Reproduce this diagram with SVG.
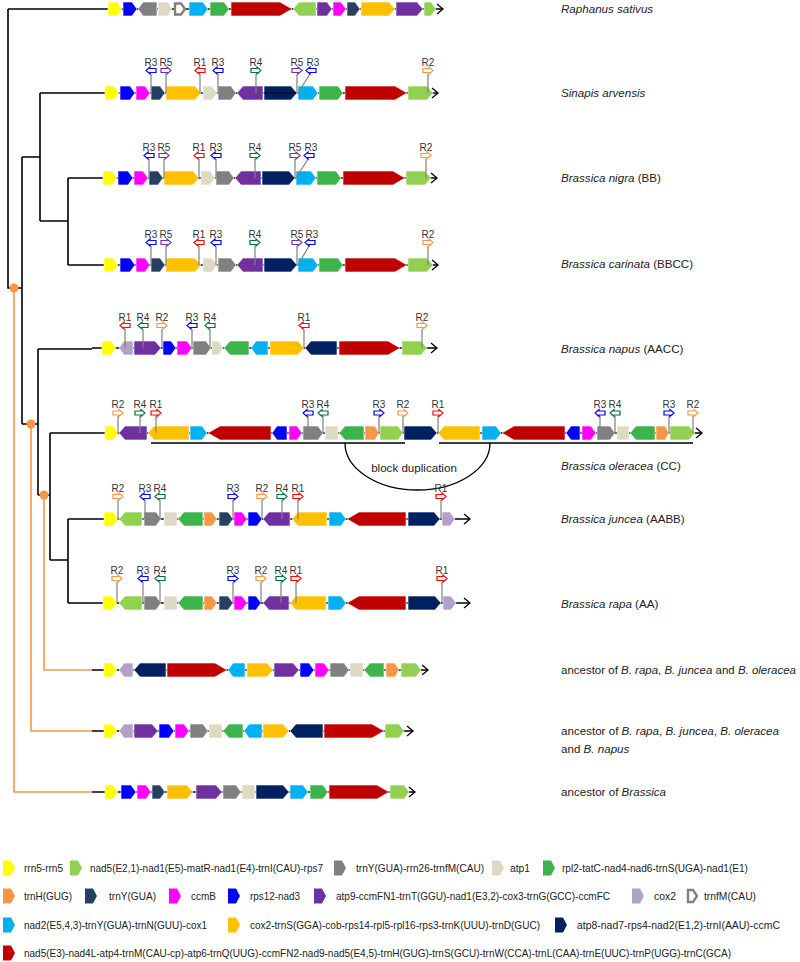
<svg xmlns="http://www.w3.org/2000/svg" xmlns:xlink="http://www.w3.org/1999/xlink" width="800" height="962" viewBox="0 0 800 962">
<style>
.ln{stroke:#000;stroke-width:1.3;fill:none}
.tr{stroke:#000;stroke-width:1.6;fill:none}
.ot{stroke:#f79646;stroke-width:1.6;fill:none}
.dot{fill:#f79646}
polygon,rect.g{stroke:#fff;stroke-width:.6}
.y{fill:#ffff00}.lg{fill:#92d050}.gy{fill:#808080}.be{fill:#ddd9c3}.gr{fill:#3cb44b}.og{fill:#f79646}.nv{fill:#254061}.mg{fill:#ff00ff}.bl{fill:#0000ff}.pu{fill:#7030a0}.li{fill:#b3a2c7}.cy{fill:#00b0f0}.go{fill:#ffc000}.dn{fill:#002060}.rd{fill:#c00000}
.fm{fill:#fff;stroke:#808080;stroke-width:2.4}
.st{stroke:#808080;stroke-width:1.2;fill:none}
use.m{fill:#fff;stroke-width:1.2}
.m1{stroke:#ff0000}.m2{stroke:#f79646}.m3{stroke:#0000ff}.m4{stroke:#00703c}.m5{stroke:#7030a0}
.rl{font-family:"Liberation Sans",Arial,sans-serif;font-size:10px;fill:#333;text-anchor:middle}
.sp{font-family:"Liberation Sans",Arial,sans-serif;font-size:11.6px;fill:#222}
.it{font-style:italic}
.lt{font-family:"Liberation Sans",Arial,sans-serif;font-size:10.5px;fill:#222}
</style>
<defs>
<marker id="ar" markerWidth="9" markerHeight="12" refX="7" refY="6" orient="auto" markerUnits="userSpaceOnUse"><path d="M1,1 L7,6 L1,11" fill="none" stroke="#000" stroke-width="1.3"/></marker>
<path id="mr" d="M-5,-2 H1 V-3.5 L5,0 L1,3.5 V2 H-5 Z"/>
<path id="ml" d="M5,-2 H-1 V-3.5 L-5,0 L-1,3.5 V2 H5 Z"/>
<path id="lic" d="M0,-7.5 H8 L12,0 L8,7.5 H0 Z"/>
</defs>

<g id="tree">
<path class="tr" d="M8,9 H97 M8,9 V288 H22 M22,157 V424 M22,157 H40 M40,93 V221 M40,93 H95 M40,221 H68 M68,178 V265 M68,178 H92 M68,265 H93 M22,424 H38 M38,349 V495 M38,349 H92 M38,495 H50 M50,433 V560 M50,433 H97 M50,560 H68 M68,519 V603 M68,519 H92 M68,603 H92"/>
<path class="ot" d="M14,288 V792 H92 M31,424 V731 H92 M44,495 V670 H92"/>
<circle class="dot" cx="14" cy="288" r="4.5"/>
<circle class="dot" cx="31" cy="424" r="4.5"/>
<circle class="dot" cx="44" cy="495" r="4.5"/>
</g>

<g id="row-raphanus" transform="translate(0,9)">
<path class="ln" d="M97,0 H443" marker-end="url(#ar)"/>
<polygon class="y" points="108,-7 117,-7 122,0 117,7 108,7"/>
<polygon class="bl" points="123,-7 132,-7 137,0 132,7 123,7"/>
<polygon class="gy" points="138,0 143,-7 157,-7 157,7 143,7"/>
<polygon class="be" points="158,-7 168,-7 172,0 168,7 158,7"/>
<path class="fm" d="M175,-5.5 H181 L185,0 L181,5.5 H175 Z"/>
<polygon class="cy" points="189,-7 203,-7 208,0 203,7 189,7"/>
<polygon class="gr" points="210,-7 224,-7 229,0 224,7 210,7"/>
<polygon class="rd" points="231,-7 280,-7 292,0 280,7 231,7"/>
<polygon class="lg" points="293,0 299,-7 316,-7 316,7 299,7"/>
<polygon class="pu" points="317,-7 327,-7 332,0 327,7 317,7"/>
<polygon class="mg" points="333,-7 341,-7 346,0 341,7 333,7"/>
<polygon class="nv" points="347,-7 355,-7 360,0 355,7 347,7"/>
<polygon class="go" points="361,-7 389,-7 395,0 389,7 361,7"/>
<polygon class="pu" points="396,-7 417,-7 423,0 417,7 396,7"/>
<polygon class="lg" points="424,-7 431,-7 436,0 431,7 424,7"/>
</g>

<g id="row-sinapis" transform="translate(0,93)">
<path class="ln" d="M95,0 H438" marker-end="url(#ar)"/>
<polygon class="y" points="105,-7 114,-7 119,0 114,7 105,7"/>
<polygon class="bl" points="120,-7 130,-7 135,0 130,7 120,7"/>
<polygon class="mg" points="136,-7 145,-7 150,0 145,7 136,7"/>
<polygon class="nv" points="151,-7 160,-7 165,0 160,7 151,7"/>
<polygon class="go" points="166,-7 195,-7 201,0 195,7 166,7"/>
<polygon class="be" points="203,-7 212,-7 217,0 212,7 203,7"/>
<polygon class="gy" points="218,-7 231,-7 236,0 231,7 218,7"/>
<polygon class="pu" points="237,0 243,-7 263,-7 263,7 243,7"/>
<polygon class="dn" points="264,-7 291,-7 297,0 291,7 264,7"/>
<path d="M264,0 H296" stroke="#000" stroke-width="1"/>
<polygon class="cy" points="298,-7 313,-7 318,0 313,7 298,7"/>
<polygon class="gr" points="319,-7 338,-7 343,0 338,7 319,7"/>
<polygon class="rd" points="345,-7 395,-7 407,0 395,7 345,7"/>
<polygon class="lg" points="408,-7 427,-7 433,0 427,7 408,7"/>
<path class="st" d="M151,-19V0 M166,-19V0 M200,-19V0 M218,-19V0 M256,-19V0 M297,-19V0 M310,-19L298,0 M428,-19V0"/>
<use class="m m3" href="#ml" x="151" y="-22.5"/><use class="m m5" href="#mr" x="166" y="-22.5"/><use class="m m1" href="#ml" x="200" y="-22.5"/><use class="m m3" href="#ml" x="218" y="-22.5"/><use class="m m4" href="#mr" x="256" y="-22.5"/><use class="m m5" href="#mr" x="297" y="-22.5"/><use class="m m3" href="#ml" x="311" y="-22.5"/><use class="m m2" href="#mr" x="428" y="-22.5"/>
<text class="rl" x="151" y="-27.5">R3</text><text class="rl" x="166" y="-27.5">R5</text><text class="rl" x="200" y="-27.5">R1</text><text class="rl" x="218" y="-27.5">R3</text><text class="rl" x="256" y="-27.5">R4</text><text class="rl" x="297" y="-27.5">R5</text><text class="rl" x="313" y="-27.5">R3</text><text class="rl" x="428" y="-27.5">R2</text>
</g>

<g id="row-nigra" transform="translate(-2,178)">
<path class="ln" d="M94,0 H439" marker-end="url(#ar)"/>
<polygon class="y" points="105,-7 114,-7 119,0 114,7 105,7"/>
<polygon class="bl" points="120,-7 130,-7 135,0 130,7 120,7"/>
<polygon class="mg" points="136,-7 145,-7 150,0 145,7 136,7"/>
<polygon class="nv" points="151,-7 160,-7 165,0 160,7 151,7"/>
<polygon class="go" points="166,-7 195,-7 201,0 195,7 166,7"/>
<polygon class="be" points="203,-7 212,-7 217,0 212,7 203,7"/>
<polygon class="gy" points="218,-7 231,-7 236,0 231,7 218,7"/>
<polygon class="pu" points="237,0 243,-7 263,-7 263,7 243,7"/>
<polygon class="dn" points="264,-7 291,-7 297,0 291,7 264,7"/>
<polygon class="cy" points="298,-7 313,-7 318,0 313,7 298,7"/>
<polygon class="gr" points="319,-7 338,-7 343,0 338,7 319,7"/>
<polygon class="rd" points="345,-7 395,-7 407,0 395,7 345,7"/>
<polygon class="lg" points="408,-7 427,-7 433,0 427,7 408,7"/>
<path class="st" d="M151,-19V0 M166,-19V0 M201,-19V0 M218,-19V0 M257,-19V0 M297,-19V0 M310,-19L298,0 M428,-19V0"/>
<use class="m m3" href="#ml" x="151" y="-22.5"/><use class="m m5" href="#mr" x="166" y="-22.5"/><use class="m m1" href="#ml" x="201" y="-22.5"/><use class="m m3" href="#ml" x="218" y="-22.5"/><use class="m m4" href="#mr" x="257" y="-22.5"/><use class="m m5" href="#mr" x="297" y="-22.5"/><use class="m m3" href="#ml" x="311" y="-22.5"/><use class="m m2" href="#mr" x="428" y="-22.5"/>
<text class="rl" x="151" y="-27.5">R3</text><text class="rl" x="166" y="-27.5">R5</text><text class="rl" x="201" y="-27.5">R1</text><text class="rl" x="218" y="-27.5">R3</text><text class="rl" x="257" y="-27.5">R4</text><text class="rl" x="297" y="-27.5">R5</text><text class="rl" x="313" y="-27.5">R3</text><text class="rl" x="428" y="-27.5">R2</text>
</g>

<g id="row-carinata" transform="translate(0,265)">
<path class="ln" d="M93,0 H438" marker-end="url(#ar)"/>
<polygon class="y" points="104,-7 113,-7 118,0 113,7 104,7"/>
<polygon class="bl" points="120,-7 130,-7 135,0 130,7 120,7"/>
<polygon class="mg" points="136,-7 145,-7 150,0 145,7 136,7"/>
<polygon class="nv" points="151,-7 160,-7 165,0 160,7 151,7"/>
<polygon class="go" points="166,-7 195,-7 201,0 195,7 166,7"/>
<polygon class="be" points="203,-7 212,-7 217,0 212,7 203,7"/>
<polygon class="gy" points="218,-7 231,-7 236,0 231,7 218,7"/>
<polygon class="pu" points="237,0 243,-7 263,-7 263,7 243,7"/>
<polygon class="dn" points="264,-7 291,-7 297,0 291,7 264,7"/>
<polygon class="cy" points="298,-7 313,-7 318,0 313,7 298,7"/>
<polygon class="gr" points="319,-7 338,-7 343,0 338,7 319,7"/>
<polygon class="rd" points="345,-7 395,-7 407,0 395,7 345,7"/>
<polygon class="lg" points="408,-7 427,-7 433,0 427,7 408,7"/>
<path class="st" d="M151,-19V0 M166,-19V0 M199,-19V0 M216,-19V0 M255,-19V0 M297,-19V0 M309,-19L298,0 M428,-19V0"/>
<use class="m m3" href="#ml" x="151" y="-22.5"/><use class="m m5" href="#mr" x="166" y="-22.5"/><use class="m m1" href="#ml" x="199" y="-22.5"/><use class="m m3" href="#ml" x="216" y="-22.5"/><use class="m m4" href="#mr" x="255" y="-22.5"/><use class="m m5" href="#mr" x="297" y="-22.5"/><use class="m m3" href="#ml" x="310" y="-22.5"/><use class="m m2" href="#mr" x="428" y="-22.5"/>
<text class="rl" x="151" y="-27.5">R3</text><text class="rl" x="166" y="-27.5">R5</text><text class="rl" x="199" y="-27.5">R1</text><text class="rl" x="216" y="-27.5">R3</text><text class="rl" x="255" y="-27.5">R4</text><text class="rl" x="297" y="-27.5">R5</text><text class="rl" x="312" y="-27.5">R3</text><text class="rl" x="428" y="-27.5">R2</text>
</g>

<g id="row-napus" transform="translate(0,348)">
<path class="ln" d="M92,0 H437" marker-end="url(#ar)"/>
<polygon class="y" points="102,-7 111,-7 116,0 111,7 102,7"/>
<polygon class="li" points="119,0 124,-7 133,-7 133,7 124,7"/>
<polygon class="pu" points="134,-7 155,-7 161,0 155,7 134,7"/>
<polygon class="bl" points="163,-7 171,-7 176,0 171,7 163,7"/>
<polygon class="mg" points="177,-7 187,-7 192,0 187,7 177,7"/>
<polygon class="gy" points="193,-7 206,-7 211,0 206,7 193,7"/>
<polygon class="be" points="212,-7 219,-7 223,0 219,7 212,7"/>
<polygon class="gr" points="224,0 230,-7 249,-7 249,7 230,7"/>
<polygon class="cy" points="251,0 256,-7 268,-7 268,7 256,7"/>
<polygon class="go" points="270,-7 298,-7 304,0 298,7 270,7"/>
<polygon class="dn" points="305,0 311,-7 337,-7 337,7 311,7"/>
<polygon class="rd" points="339,-7 388,-7 400,0 388,7 339,7"/>
<polygon class="lg" points="402,-7 421,-7 427,0 421,7 402,7"/>
<path class="st" d="M125,-19V0 M143,-19V0 M162,-19V0 M192,-19V0 M210,-19V0 M304,-19V0 M422,-19V0"/>
<use class="m m1" href="#ml" x="125" y="-22.5"/><use class="m m4" href="#ml" x="143" y="-22.5"/><use class="m m2" href="#mr" x="162" y="-22.5"/><use class="m m3" href="#ml" x="192" y="-22.5"/><use class="m m4" href="#ml" x="210" y="-22.5"/><use class="m m1" href="#ml" x="304" y="-22.5"/><use class="m m2" href="#mr" x="422" y="-22.5"/>
<text class="rl" x="125" y="-27.5">R1</text><text class="rl" x="143" y="-27.5">R4</text><text class="rl" x="162" y="-27.5">R2</text><text class="rl" x="192" y="-27.5">R3</text><text class="rl" x="210" y="-27.5">R4</text><text class="rl" x="304" y="-27.5">R1</text><text class="rl" x="422" y="-27.5">R2</text>
</g>

<g id="row-oleracea" transform="translate(0,433)">
<path class="ln" d="M97,0 H702" marker-end="url(#ar)"/>
<polygon class="y" points="105,-7 113,-7 118,0 113,7 105,7"/>
<polygon class="pu" points="119,0 125,-7 147,-7 147,7 125,7"/>
<polygon class="go" points="148,0 154,-7 189,-7 189,7 154,7"/>
<polygon class="cy" points="190,-7 202,-7 207,0 202,7 190,7"/>
<polygon class="rd" points="208,0 220,-7 271,-7 271,7 220,7"/>
<polygon class="bl" points="272,0 277,-7 287,-7 287,7 277,7"/>
<polygon class="mg" points="289,-7 297,-7 302,0 297,7 289,7"/>
<polygon class="gy" points="303,-7 318,-7 323,0 318,7 303,7"/>
<rect class="g be" x="325" y="-7" width="13" height="14"/>
<polygon class="gr" points="339,0 345,-7 364,-7 364,7 345,7"/>
<polygon class="og" points="365,-7 375,-7 379,0 375,7 365,7"/>
<polygon class="lg" points="380,-7 398,-7 403,0 398,7 380,7"/>
<polygon class="dn" points="404,-7 431,-7 437,0 431,7 404,7"/>
<polygon class="go" points="438,0 444,-7 480,-7 480,7 444,7"/>
<polygon class="cy" points="482,-7 496,-7 501,0 496,7 482,7"/>
<polygon class="rd" points="502,0 514,-7 565,-7 565,7 514,7"/>
<polygon class="bl" points="566,0 571,-7 580,-7 580,7 571,7"/>
<polygon class="mg" points="582,-7 591,-7 596,0 591,7 582,7"/>
<polygon class="gy" points="597,-7 610,-7 615,0 610,7 597,7"/>
<rect class="g be" x="617" y="-7" width="12" height="14"/>
<polygon class="gr" points="630,0 636,-7 655,-7 655,7 636,7"/>
<polygon class="og" points="656,-7 665,-7 669,0 665,7 656,7"/>
<polygon class="lg" points="670,-7 689,-7 695,0 689,7 670,7"/>
<path class="st" d="M118,-17V0 M140,-17V0 M156,-17V0 M308,-17V0 M323,-17V0 M379,-17V0 M403,-17V0 M438,-17V0 M600,-17V0 M615,-17V0 M669,-17V0 M693,-17V0"/>
<use class="m m2" href="#mr" x="118" y="-20"/><use class="m m4" href="#mr" x="140" y="-20"/><use class="m m1" href="#mr" x="156" y="-20"/><use class="m m3" href="#ml" x="308" y="-20"/><use class="m m4" href="#ml" x="323" y="-20"/><use class="m m3" href="#mr" x="379" y="-20"/><use class="m m2" href="#mr" x="403" y="-20"/><use class="m m1" href="#mr" x="438" y="-20"/><use class="m m3" href="#ml" x="600" y="-20"/><use class="m m4" href="#ml" x="615" y="-20"/><use class="m m3" href="#mr" x="669" y="-20"/><use class="m m2" href="#mr" x="693" y="-20"/>
<text class="rl" x="118" y="-25">R2</text><text class="rl" x="140" y="-25">R4</text><text class="rl" x="156" y="-25">R1</text><text class="rl" x="308" y="-25">R3</text><text class="rl" x="323" y="-25">R4</text><text class="rl" x="379" y="-25">R3</text><text class="rl" x="403" y="-25">R2</text><text class="rl" x="438" y="-25">R1</text><text class="rl" x="600" y="-25">R3</text><text class="rl" x="615" y="-25">R4</text><text class="rl" x="669" y="-25">R3</text><text class="rl" x="693" y="-25">R2</text>
</g>

<g id="block-duplication">
<path class="ln" d="M151,443 H405 M439,443 H693"/>
<path class="ln" d="M345,443 A72.5 47 0 0 0 490 443"/>
<text class="sp" x="414" y="472" text-anchor="middle">block duplication</text>
</g>

<g id="row-juncea" transform="translate(0,519)">
<path class="ln" d="M92,0 H470" marker-end="url(#ar)"/>
<polygon class="y" points="104,-7 113,-7 118,0 113,7 104,7"/>
<polygon class="lg" points="119,0 125,-7 142,-7 142,7 125,7"/>
<polygon class="gy" points="144,-7 156,-7 161,0 156,7 144,7"/>
<rect class="g be" x="164" y="-7" width="13" height="14"/>
<polygon class="gr" points="178,0 184,-7 203,-7 203,7 184,7"/>
<polygon class="og" points="204,-7 212,-7 217,0 212,7 204,7"/>
<polygon class="nv" points="219,-7 228,-7 233,0 228,7 219,7"/>
<polygon class="mg" points="234,-7 242,-7 247,0 242,7 234,7"/>
<polygon class="bl" points="248,-7 257,-7 262,0 257,7 248,7"/>
<polygon class="pu" points="263,0 269,-7 290,-7 290,7 269,7"/>
<polygon class="go" points="292,0 298,-7 327,-7 327,7 298,7"/>
<polygon class="cy" points="329,-7 341,-7 346,0 341,7 329,7"/>
<polygon class="rd" points="347,0 359,-7 406,-7 406,7 359,7"/>
<polygon class="dn" points="408,-7 434,-7 440,0 434,7 408,7"/>
<polygon class="li" points="442,-7 450,-7 455,0 450,7 442,7"/>
<path class="st" d="M118,-19V0 M145,-19V0 M160,-19V0 M233,-19V0 M262,-19V0 M282,-19V0 M298,-19V0 M441,-19V0"/>
<use class="m m2" href="#mr" x="118" y="-22.5"/><use class="m m3" href="#ml" x="145" y="-22.5"/><use class="m m4" href="#ml" x="160" y="-22.5"/><use class="m m3" href="#mr" x="233" y="-22.5"/><use class="m m2" href="#mr" x="262" y="-22.5"/><use class="m m4" href="#mr" x="282" y="-22.5"/><use class="m m1" href="#mr" x="298" y="-22.5"/><use class="m m1" href="#mr" x="441" y="-22.5"/>
<text class="rl" x="118" y="-27.5">R2</text><text class="rl" x="145" y="-27.5">R3</text><text class="rl" x="160" y="-27.5">R4</text><text class="rl" x="233" y="-27.5">R3</text><text class="rl" x="262" y="-27.5">R2</text><text class="rl" x="282" y="-27.5">R4</text><text class="rl" x="298" y="-27.5">R1</text><text class="rl" x="441" y="-27.5">R1</text>
</g>

<g id="row-rapa" transform="translate(0,603)">
<path class="ln" d="M92,0 H470" marker-end="url(#ar)"/>
<polygon class="y" points="103,-7 112,-7 117,0 112,7 103,7"/>
<polygon class="lg" points="119,0 125,-7 142,-7 142,7 125,7"/>
<polygon class="gy" points="144,-7 156,-7 161,0 156,7 144,7"/>
<rect class="g be" x="164" y="-7" width="13" height="14"/>
<polygon class="gr" points="178,0 184,-7 203,-7 203,7 184,7"/>
<polygon class="og" points="204,-7 212,-7 217,0 212,7 204,7"/>
<polygon class="nv" points="219,-7 228,-7 233,0 228,7 219,7"/>
<polygon class="mg" points="234,-7 242,-7 247,0 242,7 234,7"/>
<polygon class="bl" points="248,-7 256,-7 261,0 256,7 248,7"/>
<polygon class="pu" points="263,0 269,-7 289,-7 289,7 269,7"/>
<polygon class="go" points="290,0 296,-7 326,-7 326,7 296,7"/>
<polygon class="cy" points="328,-7 341,-7 346,0 341,7 328,7"/>
<polygon class="rd" points="347,0 359,-7 406,-7 406,7 359,7"/>
<polygon class="dn" points="408,-7 435,-7 441,0 435,7 408,7"/>
<polygon class="li" points="443,-7 451,-7 456,0 451,7 443,7"/>
<path class="st" d="M117,-21V0 M143,-21V0 M160,-21V0 M233,-21V0 M261,-21V0 M281,-21V0 M296,-21V0 M442,-21V0"/>
<use class="m m2" href="#mr" x="117" y="-24.5"/><use class="m m3" href="#ml" x="143" y="-24.5"/><use class="m m4" href="#ml" x="160" y="-24.5"/><use class="m m3" href="#mr" x="233" y="-24.5"/><use class="m m2" href="#mr" x="261" y="-24.5"/><use class="m m4" href="#mr" x="281" y="-24.5"/><use class="m m1" href="#mr" x="296" y="-24.5"/><use class="m m1" href="#mr" x="442" y="-24.5"/>
<text class="rl" x="117" y="-29.5">R2</text><text class="rl" x="143" y="-29.5">R3</text><text class="rl" x="160" y="-29.5">R4</text><text class="rl" x="233" y="-29.5">R3</text><text class="rl" x="261" y="-29.5">R2</text><text class="rl" x="281" y="-29.5">R4</text><text class="rl" x="296" y="-29.5">R1</text><text class="rl" x="442" y="-29.5">R1</text>
</g>

<g id="row-anc-rjo" transform="translate(0,670)">
<path class="ln" d="M92,0 H428" marker-end="url(#ar)"/>
<polygon class="y" points="104,-7 112,-7 117,0 112,7 104,7"/>
<polygon class="li" points="119,0 124,-7 133,-7 133,7 124,7"/>
<polygon class="dn" points="134,0 140,-7 166,-7 166,7 140,7"/>
<polygon class="rd" points="167,-7 215,-7 227,0 215,7 167,7"/>
<polygon class="cy" points="228,0 233,-7 245,-7 245,7 233,7"/>
<polygon class="go" points="247,-7 267,-7 273,0 267,7 247,7"/>
<polygon class="pu" points="274,-7 293,-7 299,0 293,7 274,7"/>
<polygon class="bl" points="300,-7 309,-7 314,0 309,7 300,7"/>
<polygon class="mg" points="315,-7 324,-7 329,0 324,7 315,7"/>
<polygon class="gy" points="330,-7 344,-7 349,0 344,7 330,7"/>
<rect class="g be" x="350" y="-7" width="13" height="14"/>
<polygon class="gr" points="364,0 370,-7 384,-7 384,7 370,7"/>
<polygon class="og" points="386,-7 395,-7 399,0 395,7 386,7"/>
<polygon class="lg" points="401,-7 416,-7 421,0 416,7 401,7"/>
</g>

<g id="row-anc-rjon" transform="translate(0,731)">
<path class="ln" d="M92,0 H413" marker-end="url(#ar)"/>
<polygon class="y" points="104,-7 112,-7 117,0 112,7 104,7"/>
<polygon class="li" points="119,0 124,-7 133,-7 133,7 124,7"/>
<polygon class="pu" points="134,-7 152,-7 158,0 152,7 134,7"/>
<polygon class="bl" points="159,-7 169,-7 174,0 169,7 159,7"/>
<polygon class="mg" points="175,-7 184,-7 189,0 184,7 175,7"/>
<polygon class="gy" points="190,-7 203,-7 208,0 203,7 190,7"/>
<rect class="g be" x="209" y="-7" width="13" height="14"/>
<polygon class="gr" points="223,0 229,-7 243,-7 243,7 229,7"/>
<polygon class="cy" points="244,0 249,-7 262,-7 262,7 249,7"/>
<polygon class="go" points="263,-7 283,-7 289,0 283,7 263,7"/>
<polygon class="dn" points="290,0 296,-7 323,-7 323,7 296,7"/>
<polygon class="rd" points="324,-7 372,-7 384,0 372,7 324,7"/>
<polygon class="lg" points="385,-7 399,-7 404,0 399,7 385,7"/>
</g>

<g id="row-anc-brassica" transform="translate(0,792)">
<path class="ln" d="M92,0 H415" marker-end="url(#ar)"/>
<polygon class="y" points="105,-7 113,-7 118,0 113,7 105,7"/>
<polygon class="bl" points="121,-7 131,-7 136,0 131,7 121,7"/>
<polygon class="mg" points="137,-7 146,-7 151,0 146,7 137,7"/>
<polygon class="nv" points="152,-7 160,-7 165,0 160,7 152,7"/>
<polygon class="go" points="167,-7 187,-7 193,0 187,7 167,7"/>
<polygon class="pu" points="196,-7 216,-7 222,0 216,7 196,7"/>
<polygon class="gy" points="223,-7 236,-7 241,0 236,7 223,7"/>
<rect class="g be" x="242" y="-7" width="13" height="14"/>
<polygon class="dn" points="256,-7 283,-7 289,0 283,7 256,7"/>
<polygon class="cy" points="290,-7 303,-7 308,0 303,7 290,7"/>
<polygon class="gr" points="310,-7 323,-7 328,0 323,7 310,7"/>
<polygon class="rd" points="329,-7 377,-7 389,0 377,7 329,7"/>
<polygon class="lg" points="390,-7 404,-7 409,0 404,7 390,7"/>
</g>

<g id="species-labels">
<text class="sp" x="561" y="13"><tspan class="it">Raphanus sativus</tspan></text>
<text class="sp" x="561" y="97"><tspan class="it">Sinapis arvensis</tspan></text>
<text class="sp" x="561" y="182"><tspan class="it">Brassica nigra</tspan> (BB)</text>
<text class="sp" x="561" y="268"><tspan class="it">Brassica carinata</tspan> (BBCC)</text>
<text class="sp" x="561" y="353"><tspan class="it">Brassica napus</tspan> (AACC)</text>
<text class="sp" x="561" y="470"><tspan class="it">Brassica oleracea</tspan> (CC)</text>
<text class="sp" x="561" y="523"><tspan class="it">Brassica juncea</tspan> (AABB)</text>
<text class="sp" x="561" y="608"><tspan class="it">Brassica rapa</tspan> (AA)</text>
<text class="sp" x="561" y="674" textLength="235" lengthAdjust="spacingAndGlyphs">ancestor of <tspan class="it">B. rapa</tspan>, <tspan class="it">B. juncea</tspan> and <tspan class="it">B. oleracea</tspan></text>
<text class="sp" x="561" y="735">ancestor of <tspan class="it">B. rapa</tspan>, <tspan class="it">B. juncea</tspan>, <tspan class="it">B. oleracea</tspan></text>
<text class="sp" x="561" y="753">and <tspan class="it">B. napus</tspan></text>
<text class="sp" x="561" y="796">ancestor of <tspan class="it">Brassica</tspan></text>
</g>

<g id="legend">
<g transform="translate(0,868)">
<use class="y" href="#lic" x="3"/><text class="lt" x="24" y="4" textLength="39" lengthAdjust="spacingAndGlyphs">rrn5-rrn5</text>
<use class="lg" href="#lic" x="70"/><text class="lt" x="90" y="4" textLength="233" lengthAdjust="spacingAndGlyphs">nad5(E2,1)-nad1(E5)-matR-nad1(E4)-trnI(CAU)-rps7</text>
<use class="gy" href="#lic" x="334"/><text class="lt" x="356" y="4" textLength="128" lengthAdjust="spacingAndGlyphs">trnY(GUA)-rrn26-trnfM(CAU)</text>
<use class="be" href="#lic" x="492"/><text class="lt" x="510" y="4" textLength="20" lengthAdjust="spacingAndGlyphs">atp1</text>
<use class="gr" href="#lic" x="543"/><text class="lt" x="562" y="4" textLength="186" lengthAdjust="spacingAndGlyphs">rpl2-tatC-nad4-nad6-trnS(UGA)-nad1(E1)</text>
</g>
<g transform="translate(0,896)">
<use class="og" href="#lic" x="3"/><text class="lt" x="24" y="4" textLength="48" lengthAdjust="spacingAndGlyphs">trnH(GUG)</text>
<use class="nv" href="#lic" x="85"/><text class="lt" x="109" y="4" textLength="47" lengthAdjust="spacingAndGlyphs">trnY(GUA)</text>
<use class="mg" href="#lic" x="169"/><text class="lt" x="191" y="4" textLength="25" lengthAdjust="spacingAndGlyphs">ccmB</text>
<use class="bl" href="#lic" x="228"/><text class="lt" x="250" y="4" textLength="50" lengthAdjust="spacingAndGlyphs">rps12-nad3</text>
<use class="pu" href="#lic" x="314"/><text class="lt" x="336" y="4" textLength="274" lengthAdjust="spacingAndGlyphs">atp9-ccmFN1-trnT(GGU)-nad1(E3,2)-cox3-trnG(GCC)-ccmFC</text>
<use class="li" href="#lic" x="632"/><text class="lt" x="654" y="4" textLength="22" lengthAdjust="spacingAndGlyphs">cox2</text>
<path class="fm" d="M688,-6 H693 L697,0 L693,6 H688 Z"/><text class="lt" x="704" y="4" textLength="52" lengthAdjust="spacingAndGlyphs">trnfM(CAU)</text>
</g>
<g transform="translate(0,925)">
<use class="cy" href="#lic" x="3"/><text class="lt" x="24" y="4" textLength="183" lengthAdjust="spacingAndGlyphs">nad2(E5,4,3)-trnY(GUA)-trnN(GUU)-cox1</text>
<use class="go" href="#lic" x="228"/><text class="lt" x="250" y="4" textLength="290" lengthAdjust="spacingAndGlyphs">cox2-trnS(GGA)-cob-rps14-rpl5-rpl16-rps3-trnK(UUU)-trnD(GUC)</text>
<use class="dn" href="#lic" x="555"/><text class="lt" x="577" y="4" textLength="203" lengthAdjust="spacingAndGlyphs">atp8-nad7-rps4-nad2(E1,2)-trnI(AAU)-ccmC</text>
</g>
<g transform="translate(0,953)">
<use class="rd" href="#lic" x="3"/><text class="lt" x="24" y="4" textLength="707" lengthAdjust="spacingAndGlyphs">nad5(E3)-nad4L-atp4-trnM(CAU-cp)-atp6-trnQ(UUG)-ccmFN2-nad9-nad5(E4,5)-trnH(GUG)-trnS(GCU)-trnW(CCA)-trnL(CAA)-trnE(UUC)-trnP(UGG)-trnC(GCA)</text>
</g>
</g>
</svg>
